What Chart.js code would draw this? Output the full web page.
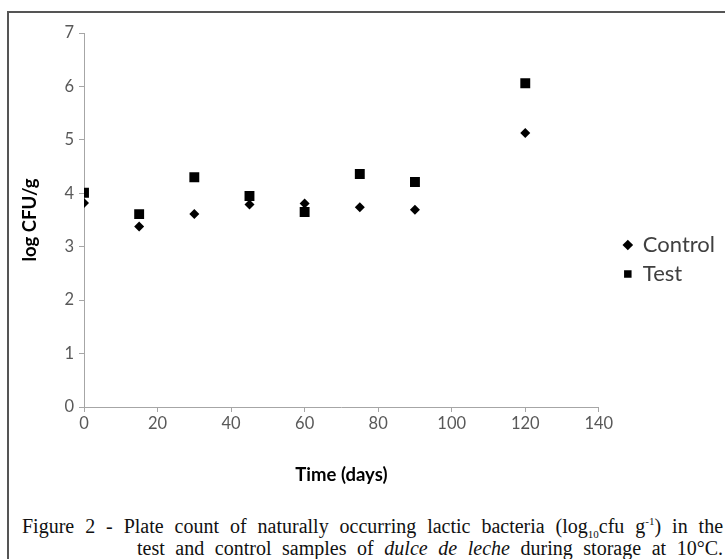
<!DOCTYPE html>
<html lang="en">
<head>
<meta charset="UTF-8">
<title>Lactic bacteria count</title>
<script src="https://cdn.jsdelivr.net/npm/chart.js"></script>
<style>
    body {
        margin: 0;
        background: #fff;
        width: 725px;
        height: 559px;
        overflow: hidden;
    }
    .frame {
        position: absolute;
        left: 7px;
        top: 11px;
        width: 718px;
        height: 548px;
        border-top: 2px solid #555;
        border-left: 2px solid #555;
    }
    .plot {
        position: absolute;
        left: 0;
        top: 0;
        width: 716px;
        height: 473px;
    }
    .caption {
        position: absolute;
        left: 13px;
        top: 503px;
        width: 701px;
        font-family: 'Liberation Serif', 'Times New Roman', serif;
        font-size: 20px;
        line-height: 21.5px;
        color: #111;
    }
    .caption div {
        white-space: nowrap;
        text-align: justify;
        text-align-last: justify;
    }
    .caption .second { padding-left: 115px; }
    .caption sub, .caption sup { font-size: 11px; line-height: 0; }
</style>
</head>
<body>
<div class="frame">
    <div class="plot"><canvas id="chart"></canvas></div>
    <div class="caption">
        <div>Figure 2 - Plate count of naturally occurring lactic bacteria (log<sub>10</sub>cfu g<sup>-1</sup>) in the</div>
        <div class="second">test and control samples of <i>dulce de leche</i> during storage at 10°C.</div>
    </div>
</div>
<script>
// storage time, days
let days = [0, 15, 30, 45, 60, 75, 90, 120];
// log CFU/g
let control = [3.82, 3.38, 3.61, 3.79, 3.81, 3.74, 3.69, 5.13];
let test = [4.01, 3.61, 4.30, 3.95, 3.65, 4.36, 4.21, 6.06];

let seriesNames = ["Control", "Test"];
let xTitle = "Time (days)";
let yTitle = "log CFU/g";

const font = "Lato, 'Open Sans', sans-serif";
const axisGrey = '#a6a6a6';

function toPoints(values) {
    return days.map((d, i) => ({ x: d, y: values[i] }));
}

let ctx = document.getElementById('chart').getContext('2d');
let chart = new Chart(ctx, {
    type: 'scatter',
    data: {
        datasets: [{
            label: seriesNames[0],
            data: toPoints(control),
            pointStyle: 'rectRot',
            pointRadius: 5,
            backgroundColor: '#000',
            borderColor: '#000',
            borderWidth: 0
        }, {
            label: seriesNames[1],
            data: toPoints(test),
            pointStyle: 'rect',
            pointRadius: 7,
            backgroundColor: '#000',
            borderColor: '#000',
            borderWidth: 0
        }]
    },
    options: {
        responsive: true,
        maintainAspectRatio: false,
        animation: false,
        layout: { padding: { top: 20, left: 10, right: 0, bottom: 0 } },
        scales: {
            x: {
                type: 'linear',
                min: 0,
                max: 140,
                ticks: { stepSize: 20, color: '#595959', padding: 2, font: { family: font, size: 16.5 } },
                grid: { drawOnChartArea: false, color: axisGrey, tickLength: 5 },
                border: { color: axisGrey },
                title: { display: true, text: xTitle, color: '#000', padding: { top: 28, bottom: 0 }, font: { family: font, size: 18.5, weight: 'bold' } }
            },
            y: {
                min: 0,
                max: 7,
                ticks: { stepSize: 1, color: '#595959', padding: 5, font: { family: font, size: 16.5 } },
                grid: { drawOnChartArea: false, color: axisGrey, tickLength: 5 },
                border: { color: axisGrey },
                title: { display: true, text: yTitle, color: '#000', padding: 0, font: { family: font, size: 18.5, weight: 'bold' } },
                afterFit: (scale) => { scale.width = 65; }
            },
            // empty axis, only keeps a gap between plot and legend
            gap: {
                position: 'right',
                display: true,
                ticks: { display: false },
                grid: { display: false },
                border: { display: false },
                afterFit: (scale) => { scale.width = 18; }
            }
        },
        plugins: {
            legend: {
                position: 'right',
                labels: {
                    usePointStyle: true,
                    boxWidth: 8,
                    boxHeight: 7.5,
                    padding: 7,
                    color: '#404040',
                    font: { family: font, size: 22, lineHeight: 1 }
                }
            },
            tooltip: { enabled: false }
        }
    }
});
</script>
</body>
</html>
